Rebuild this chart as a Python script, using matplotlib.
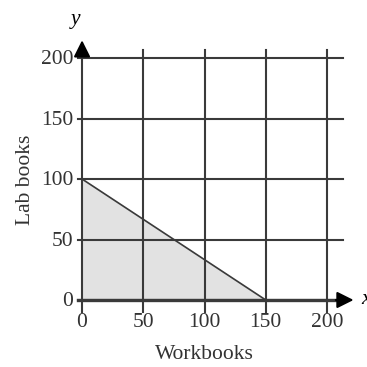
import matplotlib
matplotlib.use("Agg")
import matplotlib.pyplot as plt

# data
ticks = [0, 50, 100, 150, 200]
tick_labels = ["0", "50", "100", "150", "200"]
region_x = [0, 0, 150]
region_y = [0, 100, 0]
boundary_x = [0, 150]
boundary_y = [100, 0]

plt.rcParams["font.family"] = ["Liberation Serif", "DejaVu Serif"]

fig = plt.figure(figsize=(3.67, 3.67), dpi=100)
ax = fig.add_axes([0, 0, 1, 1])
ax.set_xlim(-67, 232.7)
ax.set_ylim(-55.4, 248)
ax.axis("off")

grid_col = "#3a3a3a"

# shaded feasible region
ax.fill(region_x, region_y, color="#e2e2e2", zorder=1)

# grid lines
for t in ticks:
    ax.plot([t, t], [-10, 207], color=grid_col, lw=1.5, zorder=2)
    ax.plot([-3, 213], [t, t], color=grid_col, lw=1.5, zorder=2)

# x axis heavier
ax.plot([-3, 215], [0, 0], color=grid_col, lw=2.4, zorder=3)

# boundary line
ax.plot(boundary_x, boundary_y, color=grid_col, lw=1.2, zorder=3)

# arrows
arrow = dict(arrowstyle="-|>,head_length=1.0,head_width=0.5", color="black", lw=1.5)
ax.annotate("", xy=(0, 217), xytext=(0, 200), arrowprops=arrow)
ax.annotate("", xy=(224, 0), xytext=(205, 0), arrowprops=arrow)

# tick labels
for t, lab in zip(ticks, tick_labels):
    ax.text(-7, t - 1.5, lab, ha="right", va="center", fontsize=15.5, color="#333333")
    ax.text(t, -10.5, lab, ha="center", va="top", fontsize=15.5, color="#333333")

ax.text(-5, 232, "y", ha="center", va="center", fontsize=15.5, style="italic")
ax.text(228, 0, "x", ha="left", va="center", fontsize=15.5, style="italic")

ax.text(100, -45, "Workbooks", ha="center", va="center", fontsize=15.5, color="#333333")
ax.text(-46, 99, "Lab books", ha="center", va="center", rotation=90,
        fontsize=15.5, color="#333333")

fig.savefig("out.png", dpi=100)
